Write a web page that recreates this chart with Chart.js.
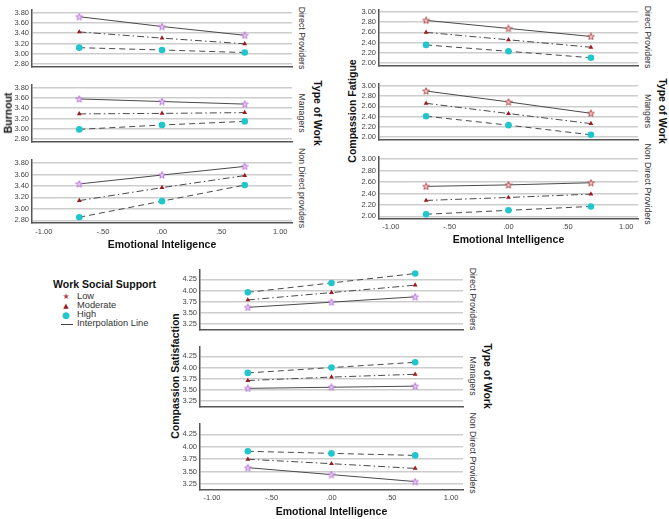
<!DOCTYPE html>
<html>
<head>
<meta charset="utf-8">
<script src="https://cdn.jsdelivr.net/npm/chart.js@4.4.1/dist/chart.umd.min.js"></script>
<style>
  body { margin:0; width:669px; height:519px; position:relative; background:#fff; overflow:hidden;
         font-family:"Liberation Sans", Arial, sans-serif; }
  canvas { position:absolute; }
  .t { position:absolute; white-space:nowrap; color:#222; line-height:1; }
  .up { transform:translate(-50%,-50%) rotate(-90deg); }
  .down { transform:translate(-50%,-50%) rotate(90deg); }
  .ttl { font-weight:bold; font-size:10.5px; color:#111; }
  .row { font-size:8.8px; color:#333; }
  .mk { position:absolute; }
</style>
</head>
<body>
<script>
// x positions of the three emotional intelligence levels
const eiLevels = [-0.7, 0, 0.7];
const xTicks = [-1, -0.5, 0, 0.5, 1];

// rows: Direct Providers, Managers, Non Direct Providers
const burnoutLow      = [[3.72, 3.53, 3.36], [3.58, 3.53, 3.48], [3.435, 3.59, 3.74]];
const burnoutModerate = [[3.425, 3.305, 3.195], [3.29, 3.30, 3.315], [3.145, 3.37, 3.58]];
const burnoutHigh     = [[3.12, 3.075, 3.025], [2.99, 3.075, 3.145], [2.855, 3.135, 3.415]];
const burnoutTicks    = [2.8, 3.0, 3.2, 3.4, 3.6, 3.8];
const burnoutRows     = ["Direct Providers", "Managers", "Non Direct providers"];

const fatigueLow      = [[2.835, 2.677, 2.52], [2.90, 2.687, 2.465], [2.524, 2.55, 2.587]];
const fatigueModerate = [[2.60, 2.455, 2.31], [2.66, 2.46, 2.264], [2.278, 2.33, 2.388]];
const fatigueHigh     = [[2.355, 2.23, 2.105], [2.407, 2.233, 2.045], [2.036, 2.105, 2.173]];
const fatigueTicks    = [2.0, 2.2, 2.4, 2.6, 2.8, 3.0];
const fatigueRows     = ["Direct Providers", "Mangers", "Non Direct Providers"];

const satisLow        = [[3.625, 3.74, 3.86], [3.535, 3.56, 3.585], [3.58, 3.44, 3.30]];
const satisModerate   = [[3.79, 3.955, 4.12], [3.71, 3.787, 3.85], [3.75, 3.66, 3.565]];
const satisHigh       = [[3.96, 4.17, 4.38], [3.88, 4.0, 4.117], [3.91, 3.868, 3.827]];
const satisTicks      = [3.25, 3.5, 3.75, 4.0, 4.25];
const satisRows       = ["Direct Providers", "Managers", "Non Direct Providers"];

const legendLabels = ["Low", "Moderate", "High", "Interpolation Line"];

function starImg(stroke, fill) {
  const c = document.createElement('canvas');
  c.width = 8; c.height = 8;
  const g = c.getContext('2d');
  g.beginPath();
  for (let i = 0; i < 10; i++) {
    const r = i % 2 ? 1.5 : 3.6;
    const a = -Math.PI / 2 + i * Math.PI / 5;
    g.lineTo(4 + r * Math.cos(a), 4.3 + r * Math.sin(a));
  }
  g.closePath();
  g.fillStyle = fill; g.fill();
  g.strokeStyle = stroke; g.lineWidth = 0.9; g.stroke();
  return c;
}
const violetStar = starImg('#b86fd8', '#ead0f5');
const redStar = starImg('#b0464a', '#f1cccc');

function fmtX(v) {
  let s = Math.abs(v).toFixed(2);
  if (Math.abs(v) < 1) s = s.replace(/^0/, '');
  return (v < 0 ? '-' : '') + s;
}

function addText(txt, x, y, cls) {
  const d = document.createElement('div');
  d.className = 't ' + cls;
  d.style.left = x + 'px'; d.style.top = y + 'px';
  d.textContent = txt;
  document.body.appendChild(d);
  return d;
}

function makeGroup(g) {
  for (let r = 0; r < 3; r++) {
    const bottom = r === 2;
    const cv = document.createElement('canvas');
    const h = g.h + (bottom ? g.xh : 1);
    cv.width = g.w; cv.height = h;
    cv.style.left = g.left + 'px'; cv.style.top = g.tops[r] + 'px';
    document.body.appendChild(cv);
    new Chart(cv, {
      type: 'line',
      data: {
        datasets: [
          { data: eiLevels.map((x, i) => ({x: x, y: g.low[r][i]})), borderColor: '#4a4a4a', borderWidth: 1,
            pointStyle: g.star, pointRadius: 3.5 },
          { data: eiLevels.map((x, i) => ({x: x, y: g.mod[r][i]})), borderColor: '#4a4a4a', borderWidth: 1,
            borderDash: [7, 3, 1.5, 3], pointStyle: 'triangle', pointRadius: 2.8,
            pointBackgroundColor: '#9b1b1e', pointBorderColor: '#9b1b1e', pointBorderWidth: 0 },
          { data: eiLevels.map((x, i) => ({x: x, y: g.high[r][i]})), borderColor: '#4a4a4a', borderWidth: 1,
            borderDash: [6, 4], pointStyle: 'circle', pointRadius: 3.3,
            pointBackgroundColor: '#1fc6cc', pointBorderColor: '#1fc6cc', pointBorderWidth: 0 }
        ]
      },
      options: {
        responsive: false, animation: false,
        layout: { padding: 0 },
        plugins: { legend: { display: false }, tooltip: { enabled: false } },
        elements: { line: { tension: 0 } },
        scales: {
          x: {
            type: 'linear', min: -1.1, max: 1.1,
            afterBuildTicks: s => { s.ticks = xTicks.map(v => ({value: v})); },
            afterFit: s => { s.height = bottom ? g.xh : 0; },
            grid: { drawOnChartArea: false, drawTicks: false },
            border: { color: '#555', width: 1.5 },
            ticks: { display: bottom, autoSkip: false, callback: v => fmtX(v), font: { size: 7.5 }, color: '#444',
                     padding: g.xpad, maxRotation: 0 },
            title: { display: bottom, text: g.xtitle,
                     font: { size: 10.5, weight: 'bold' }, color: '#111', padding: 0 }
          },
          y: {
            min: g.min, max: g.max,
            afterBuildTicks: s => { s.ticks = g.ticks.map(v => ({value: v})); },
            afterFit: s => { s.width = g.yw; },
            grid: { color: '#cdcdcd', lineWidth: 1.5, drawTicks: false },
            border: { color: '#555', width: 1.5 },
            ticks: { autoSkip: false, callback: v => v.toFixed(2), font: { size: 7.5 }, color: '#444', padding: 3 }
          }
        }
      }
    });
    addText(g.rows[r], g.rowX, g.tops[r] + g.h / 2, 'row down');
  }
  const mid = (g.tops[0] + g.tops[2] + g.h) / 2;
  addText(g.title, g.titleX, mid, 'ttl up');
  addText('Type of Work', g.typeX, mid, 'ttl down');
}

makeGroup({ left: 0, w: 297, yw: 32, tops: [2, 77, 152], h: 71, xh: 28, xpad: 4,
  min: 2.755, max: 3.86, ticks: burnoutTicks, rows: burnoutRows,
  low: burnoutLow, mod: burnoutModerate, high: burnoutHigh, star: violetStar,
  title: 'Burnout', titleX: 8, typeX: 318, rowX: 302, xtitle: 'Emotional Inteligence' });

makeGroup({ left: 359, w: 284, yw: 20, tops: [2, 76, 149], h: 70, xh: 27, xpad: 3,
  min: 1.953, max: 3.047, ticks: fatigueTicks, rows: fatigueRows,
  low: fatigueLow, mod: fatigueModerate, high: fatigueHigh, star: redStar,
  title: 'Compassion Fatigue', titleX: 352, typeX: 663, rowX: 648, xtitle: 'Emotional Intelligence' });

makeGroup({ left: 181, w: 287, yw: 19, tops: [262, 339, 416], h: 74, xh: 28, xpad: 3,
  min: 3.13, max: 4.47, ticks: satisTicks, rows: satisRows,
  low: satisLow, mod: satisModerate, high: satisHigh, star: violetStar,
  title: 'Compassion Satisfaction', titleX: 175, typeX: 488, rowX: 473, xtitle: 'Emotional Intelligence' });

// legend
addText('Work Social Support', 53, 279, 'ttl');
const legendMarks = [
  { s: '★', color: '#b0464a', size: 8 },
  { s: '▲', color: '#9b1b1e', size: 7 },
  { s: '●', color: '#1fc6cc', size: 9 }
];
legendLabels.forEach((txt, i) => {
  const y = 297 + i * 9;
  const lab = addText(txt, 77, y - 5, 'row');
  lab.style.fontSize = '9.3px';
  if (i < 3) {
    const m = addText(legendMarks[i].s, 66, y, 'mk');
    m.style.transform = 'translate(-50%,-50%)';
    m.style.color = legendMarks[i].color;
    m.style.fontSize = legendMarks[i].size + 'px';
    m.style.fontFamily = '"DejaVu Sans"';
  } else {
    const l = document.createElement('div');
    l.style.cssText = 'position:absolute;left:61px;top:' + y + 'px;width:12px;border-top:1px solid #444;';
    document.body.appendChild(l);
  }
});
</script>
</body>
</html>
